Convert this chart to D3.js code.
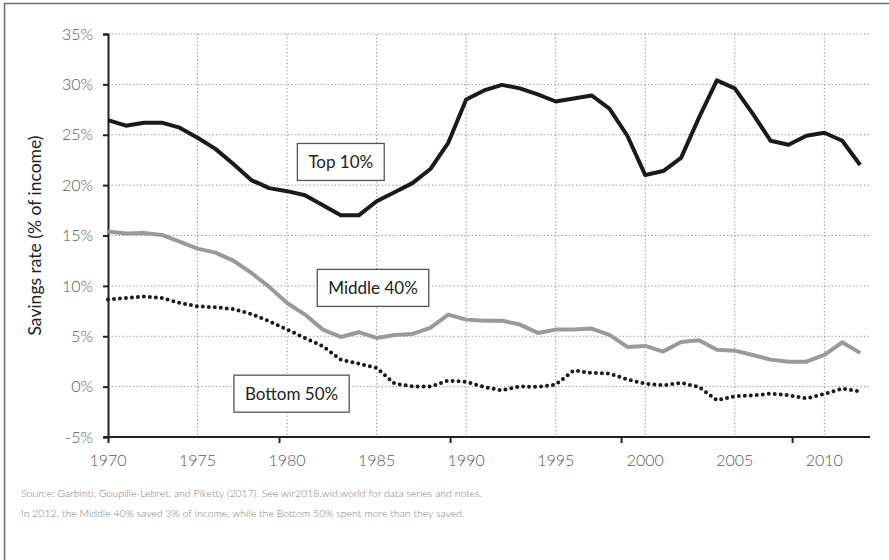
<!DOCTYPE html>
<html>
<head>
<meta charset="utf-8">
<script src="https://cdn.jsdelivr.net/npm/d3@7"></script>
<style>
  html, body { margin: 0; padding: 0; background: #fff; }
  svg { display: block; font-family: Lato, "Open Sans", sans-serif; }
</style>
</head>
<body>
<svg id="chart" width="889" height="560"></svg>
<script>
const years = d3.range(1970, 2013);
const top10 = [26.45, 25.9, 26.2, 26.2, 25.7, 24.7, 23.6, 22.1, 20.5, 19.7, 19.4, 19.0, 18.0, 17.0, 17.0, 18.4, 19.3, 20.2, 21.6, 24.2,
  28.5, 29.4, 29.95, 29.6, 29.0, 28.3, 28.6, 28.9, 27.6, 24.9, 21.0, 21.4, 22.7, 26.7, 30.4, 29.6, 27.1, 24.4, 24.0, 24.9, 25.2, 24.4, 22.0];
const middle40 = [15.4, 15.2, 15.25, 15.05, 14.4, 13.7, 13.3, 12.5, 11.3, 9.9, 8.3, 7.15, 5.66, 4.93, 5.4, 4.83, 5.13, 5.23, 5.83, 7.15,
  6.65, 6.55, 6.55, 6.16, 5.33, 5.66, 5.66, 5.76, 5.13, 3.94, 4.04, 3.48, 4.44, 4.6, 3.67, 3.57, 3.14, 2.68, 2.48, 2.48, 3.14, 4.4, 3.35];
const bottom50 = [8.64, 8.8, 8.94, 8.8, 8.3, 7.97, 7.87, 7.7, 7.2, 6.5, 5.66, 4.83, 4.0, 2.68, 2.28, 1.86, 0.3, 0.03, 0.0, 0.6,
  0.47, -0.03, -0.37, 0.03, -0.03, 0.2, 1.6, 1.36, 1.3, 0.7, 0.3, 0.13, 0.37, -0.03, -1.36, -0.96, -0.86, -0.7, -0.86, -1.16, -0.73, -0.2, -0.5];
const seriesNames = ["Top 10%", "Middle 40%", "Bottom 50%"];
const labelYears = [1983.0, 1984.8, 1980.25];
const labelValues = [22.3, 9.8, -0.7];
const yTicks = [-5, 0, 5, 10, 15, 20, 25, 30, 35];
const xLabelYears = [1970, 1975, 1980, 1985, 1990, 1995, 2000, 2005, 2010];
const xTickMarkYears = [1970, 1979.55, 1989.1, 1998.65, 2008.2];
const yTitle = "Savings rate (% of income)";
const notes = [
  "Source: Garbinti, Goupille-Lebret, and Piketty (2017). See wir2018.wid.world for data series and notes.",
  "In 2012, the Middle 40% saved 3% of income, while the Bottom 50% spent more than they saved."
];

const svg = d3.select("#chart");
// outer frame
svg.append("rect").attr("x", 4.5).attr("y", 3.5).attr("width", 1000).attr("height", 1000)
  .attr("fill", "none").attr("stroke", "#6b6b6b").attr("stroke-width", 1.5);

const x = d3.scaleLinear().domain([1970, 2012.55]).range([108, 870]);
const y = d3.scaleLinear().domain([-5, 35]).range([437, 34]);

// grid
const grid = svg.append("g");
grid.selectAll("line.h").data(yTicks.filter(d => d > -5)).join("line")
  .attr("x1", x(1970)).attr("x2", x(2012.55)).attr("y1", d => y(d)).attr("y2", d => y(d))
  .attr("stroke", "#8a8a8a").attr("stroke-width", 1).attr("stroke-dasharray", "1.2,2.4");
grid.selectAll("line.v").data(xLabelYears.filter(d => d > 1970)).join("line")
  .attr("x1", d => x(d)).attr("x2", d => x(d)).attr("y1", y(35)).attr("y2", y(-5))
  .attr("stroke", "#8a8a8a").attr("stroke-width", 1).attr("stroke-dasharray", "1.2,2.4");

// y axis
const yAxis = svg.append("g").attr("transform", `translate(${x(1970)},0)`)
  .call(d3.axisLeft(y).tickValues(yTicks).tickFormat(d => d + "%").tickSize(5).tickPadding(10));
yAxis.select(".domain").attr("stroke", "#222").attr("stroke-width", 2);
yAxis.selectAll(".tick line").attr("stroke", "#222").attr("stroke-width", 2);
yAxis.selectAll(".tick text").attr("fill", "#5a5a5a").attr("font-size", 16).attr("font-weight", 300)
  .attr("font-family", "Lato, sans-serif");

// x axis line with tick marks
const xAxis = svg.append("g").attr("transform", `translate(0,${y(-5)})`)
  .call(d3.axisBottom(x).tickValues(xTickMarkYears).tickFormat("").tickSize(6).tickSizeOuter(0));
xAxis.select(".domain").attr("stroke", "#222").attr("stroke-width", 2.2)
  .attr("d", `M${x(1970) - 4},0H${x(2012.55)}`);
xAxis.selectAll(".tick line").attr("stroke", "#222").attr("stroke-width", 2);

// x labels
svg.append("g").selectAll("text").data(xLabelYears).join("text")
  .attr("x", d => x(d)).attr("y", y(-5) + 29)
  .attr("text-anchor", "middle").attr("fill", "#5a5a5a").attr("font-size", 16).attr("font-weight", 300)
  .text(d => d);

// y title
svg.append("text").attr("transform", `translate(41,${y(15)}) rotate(-90)`)
  .attr("text-anchor", "middle").attr("fill", "#222").attr("font-size", 17.5).text(yTitle);

// lines
const line = vals => d3.line().x((d, i) => x(years[i])).y(d => y(d))(vals);
svg.append("path").attr("d", line(middle40)).attr("fill", "none")
  .attr("stroke", "#9a9a9a").attr("stroke-width", 4).attr("stroke-linejoin", "round");
svg.append("path").attr("d", line(bottom50)).attr("fill", "none")
  .attr("stroke", "#1a1a1a").attr("stroke-width", 4).attr("stroke-linecap", "round")
  .attr("stroke-dasharray", "0,6");
svg.append("path").attr("d", line(top10)).attr("fill", "none")
  .attr("stroke", "#1a1a1a").attr("stroke-width", 4).attr("stroke-linejoin", "round");

// labels
seriesNames.forEach((name, i) => {
  const g = svg.append("g");
  const t = g.append("text").attr("x", x(labelYears[i])).attr("y", y(labelValues[i]))
    .attr("text-anchor", "middle").attr("dominant-baseline", "central")
    .attr("font-size", 17).attr("fill", "#222").text(name);
  const bb = t.node().getBBox();
  const cy = y(labelValues[i]);
  g.insert("rect", "text").attr("x", bb.x - 11).attr("y", cy - 18.5)
    .attr("width", bb.width + 22).attr("height", 37)
    .attr("fill", "#fff").attr("stroke", "#555").attr("stroke-width", 1.3);
});

// notes
svg.append("g").selectAll("text").data(notes).join("text")
  .attr("x", 21).attr("y", (d, i) => 497 + i * 20)
  .attr("fill", "#808080").attr("font-size", 10.5).attr("font-weight", 300).text(d => d);
</script>
</body>
</html>
